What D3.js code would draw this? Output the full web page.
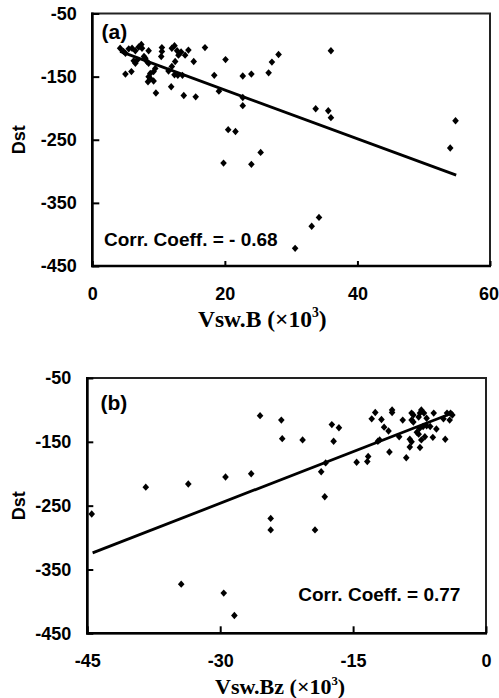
<!DOCTYPE html>
<html><head><meta charset="utf-8">
<script src="https://cdn.jsdelivr.net/npm/d3@7"></script>
<style>body{margin:0;background:#fff}svg{display:block}</style>
</head><body><svg id="c" width="499" height="698"></svg>
<script>
// ---- data: panel (a) Dst vs Vsw.B ----
const aVswB = [4.2,4.7,5.0,5.5,6.0,6.5,7.0,7.4,7.5,8.5,6.25,6.5,6.75,7.8,8.0,8.25,8.5,5.0,5.9,8.75,9.25,8.5,8.75,8.4,9.25,9.6,9.5,10.5,10.5,10.4,12.0,12.4,12.8,13.0,13.4,12.5,12.0,11.5,12.4,12.9,13.6,11.9,13.8,14.5,14.0,15.3,15.6,17.0,18.4,19.1,20.1,22.7,22.7,22.7,24.0,26.6,27.1,28.1,36.0,33.7,35.6,36.0,20.5,21.6,25.4,19.8,24.0,54.0,54.8,33.1,34.2,30.6];
const aDst  = [-105,-110,-113,-106,-105,-109,-103,-99,-105,-109,-125,-129,-124,-118,-121,-126,-129,-146,-142,-145,-142,-150,-153,-158,-157,-176,-137,-104,-110,-118,-105,-101,-109,-116,-111,-126,-134,-141,-147,-148,-148,-166,-180,-108,-116,-126,-182,-104,-148,-173,-123,-149,-183,-196,-146,-144,-127,-115,-109,-201,-204,-215,-234,-237,-270,-287,-289,-263,-220,-387,-373,-422];
const aFitX = [4.2, 54.9];
const aFitY = [-110, -306];
const aXTicks = [0, 20, 40, 60];
const aCorr = "Corr. Coeff. = - 0.68";
const aTag = "(a)";
const aXTitle = "Vsw.B (\u00d710";

// ---- data: panel (b) Dst vs Vsw.Bz ----
const bVswBz = [-44.5,-38.4,-33.6,-29.4,-26.5,-34.4,-29.6,-28.4,-25.5,-23.1,-23.0,-20.7,-17.4,-16.6,-17.2,-18.1,-18.6,-18.2,-24.3,-24.3,-19.3,-14.6,-13.4,-13.3,-10.9,-9.0,
  -12.5,-12.9,-11.8,-10.6,-10.6,-11.5,-11.0,-9.4,-8.4,-8.2,-8.4,-8.2,-7.3,-7.0,-7.6,-7.45,-6.7,-5.9,-4.4,-4.0,-3.8,-4.8,-4.1,-7.5,-7.1,-6.7,-6.3,-5.6,-7.6,-7.8,-6.9,-7.3,-6.0,-4.6,-8.6,-8.4,-8.6,-7.45,-9.8,-12.0,-12.2];
const bDst = [-263,-221,-216,-205,-200,-373,-387,-422,-109,-116,-145,-147,-123,-128,-149,-183,-197,-236,-270,-288,-288,-182,-181,-173,-166,-175,
  -104,-114,-115,-100,-104,-127,-133,-116,-105,-108,-116,-119,-100,-105,-111,-105,-113,-105,-105,-105,-108,-114,-116,-129,-126,-125,-126,-130,-138,-135,-142,-147,-143,-146,-146,-150,-158,-159,-142,-147,-149];
const bFitX = [-44.4, -4.0];
const bFitY = [-324, -106];
const bXTicks = [-45, -30, -15, 0];
const bCorr = "Corr. Coeff. = 0.77";
const bTag = "(b)";
const bXTitle = "Vsw.Bz (\u00d710";

const yTicks = [-450, -350, -250, -150, -50];
const yTitle = "Dst";

const SANS = "'Liberation Sans', Arial, Helvetica, sans-serif";
const SERIF = "'Liberation Serif', 'Times New Roman', Times, serif";
const fmt = d => String(d);   // plain hyphen-minus like the original

const svg = d3.select("#c");

const diamond = {
  draw(ctx) {
    const w = 3.3, h = 3.7;
    ctx.moveTo(0, -h); ctx.lineTo(w, 0); ctx.lineTo(0, h); ctx.lineTo(-w, 0); ctx.closePath();
  }
};

function panel(cfg) {
  const x = d3.scaleLinear().domain(cfg.xDomain).range(cfg.xRange);
  const y = d3.scaleLinear().domain([-450, -50]).range(cfg.yRange);
  const g = svg.append("g");
  const [x0, x1] = cfg.xRange, [yb, yt] = cfg.yRange;

  g.append("rect").attr("x", x0).attr("y", yt).attr("width", x1 - x0).attr("height", yb - yt)
    .attr("fill", "none").attr("stroke", "#222").attr("stroke-width", 2);

  const gx = g.append("g").attr("transform", `translate(0,${yb})`)
    .call(d3.axisBottom(x).tickValues(cfg.xTicks).tickSize(-cfg.xTick).tickPadding(21).tickFormat(fmt));
  gx.select(".domain").remove();
  gx.selectAll(".tick line").attr("stroke", "#000").attr("stroke-width", 2);
  gx.selectAll(".tick text").attr("font-family", SANS).attr("font-weight", "bold").attr("font-size", 18).attr("fill", "#000")
    .attr("dx", (d, i, n) => i === n.length - 1 ? cfg.lastDx : 0);

  const gy = g.append("g").attr("transform", `translate(${x0},0)`)
    .call(d3.axisLeft(y).tickValues(yTicks).tickSize(-cfg.yTick).tickPadding(cfg.yPad).tickFormat(fmt));
  gy.select(".domain").remove();
  gy.selectAll(".tick line").attr("stroke", "#000").attr("stroke-width", 2);
  gy.selectAll(".tick text").attr("font-family", SANS).attr("font-weight", "bold").attr("font-size", 18).attr("fill", "#000");

  g.append("line").attr("x1", x0).attr("x2", x0).attr("y1", yt - 1).attr("y2", yb + 1.2)
    .attr("stroke", "#000").attr("stroke-width", 2.6);
  g.append("line").attr("x1", x0 - 1.2).attr("x2", x1 + 1).attr("y1", yb).attr("y2", yb)
    .attr("stroke", "#000").attr("stroke-width", 2.6);

  const pts = cfg.xs.map((v, i) => [v, cfg.ys[i]]);
  g.append("g").selectAll("path").data(pts).join("path")
    .attr("d", d3.symbol().type(diamond))
    .attr("transform", d => `translate(${x(d[0])},${y(d[1])})`)
    .attr("fill", "#000");

  const fit = cfg.fitX.map((v, i) => [v, cfg.fitY[i]]);
  g.append("path").datum(fit)
    .attr("d", d3.line().x(d => x(d[0])).y(d => y(d[1])))
    .attr("fill", "none").attr("stroke", "#000").attr("stroke-width", 2.8);

  g.append("text").attr("x", cfg.tagX).attr("y", cfg.tagY).text(cfg.tag)
    .attr("font-family", SANS).attr("font-weight", "bold").attr("font-size", 21);

  g.append("text").attr("x", cfg.corrX).attr("y", cfg.corrY).text(cfg.corr)
    .attr("font-family", SANS).attr("font-weight", "bold").attr("font-size", 19);

  g.append("text").attr("transform", `translate(${cfg.yTitleX},${y(-250)}) rotate(-90)`)
    .attr("text-anchor", "middle").attr("dy", "0.35em").text(yTitle)
    .attr("font-family", SANS).attr("font-weight", "bold").attr("font-size", 18);

  const t = g.append("text").attr("x", cfg.xTitleX).attr("y", cfg.xTitleY)
    .attr("font-family", SERIF).attr("font-weight", "bold").attr("font-size", cfg.xTitleSize);
  t.append("tspan").text(cfg.xTitle);
  t.append("tspan").attr("font-size", cfg.xTitleSize * 0.58).attr("dy", -cfg.xTitleSize * 0.42).text("3");
  t.append("tspan").attr("dy", cfg.xTitleSize * 0.42).text(")");
}

panel({
  xs: aVswB, ys: aDst, fitX: aFitX, fitY: aFitY,
  xDomain: [0, 60], xRange: [92.3, 490], yRange: [266, 13.5],
  xTicks: aXTicks, xTick: 5, yTick: 7, yPad: 15.5, lastDx: -1.5,
  tag: aTag, tagX: 101.5, tagY: 38.5,
  corr: aCorr, corrX: 104, corrY: 245.5,
  yTitleX: 18.5, xTitle: aXTitle, xTitleX: 198, xTitleY: 327, xTitleSize: 23.5
});

panel({
  xs: bVswBz, ys: bDst, fitX: bFitX, fitY: bFitY,
  xDomain: [-45, 0], xRange: [87.3, 486], yRange: [633.3, 378],
  xTicks: bXTicks, xTick: 7, yTick: 6, yPad: 16, lastDx: 0,
  tag: bTag, tagX: 100.5, tagY: 410,
  corr: bCorr, corrX: 298.3, corrY: 600.5,
  yTitleX: 18.5, xTitle: bXTitle, xTitleX: 215, xTitleY: 694, xTitleSize: 22
});
</script>
</body></html>
